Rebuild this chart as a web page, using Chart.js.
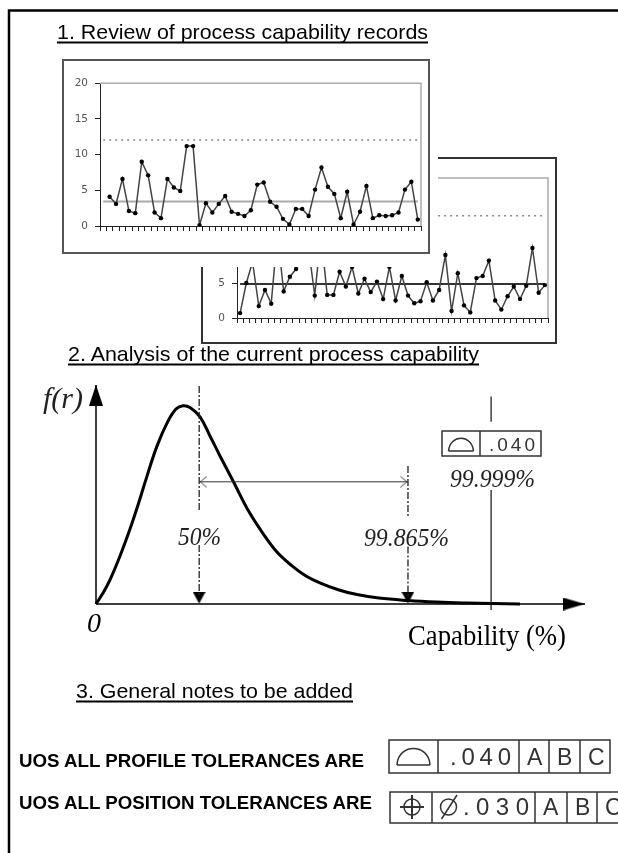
<!DOCTYPE html>
<html>
<head>
<meta charset="utf-8">
<title>Process capability</title>
<script src="https://cdn.jsdelivr.net/npm/chart.js@4/dist/chart.umd.min.js"></script>
<style>
  html, body { margin: 0; padding: 0; background: #fff; }
  body { position: relative; width: 618px; height: 853px; overflow: hidden; }
  .box { position: absolute; box-sizing: border-box; background: #fff; }
  .box canvas { position: absolute; filter: blur(.45px); }
  #frame2 { left: 201px; top: 157px; width: 356px; height: 187px; border: 2px solid #333; }
  #patch { left: 195px; top: 150px; width: 243px; height: 117px; }
  #frame1 { left: 62px; top: 59px; width: 368px; height: 195px; border: 2px solid #555; }
  #curveWrap { position: absolute; left: 76px; top: 375px; width: 529px; height: 245px; filter: blur(.3px); }
  #notes { position: absolute; left: 0; top: 0; filter: blur(.3px); }
  #notes text { font-family: "Liberation Sans", Arial, sans-serif; fill: #000; }
  #notes .serif { font-family: "Liberation Serif", "Times New Roman", serif; font-style: italic; fill: #222; }
  #notes .frame { fill: none; stroke: #333; stroke-width: 1.5; }
  #notes .sym { font-size: 23px; fill: #333; }
</style>
</head>
<body>
<div class="box" id="frame2"><canvas id="chart2" width="352" height="180" style="left:0;top:1px;width:352px;height:180px"></canvas></div>
<div class="box" id="patch"></div>
<div class="box" id="frame1"><canvas id="chart1" width="360" height="175" style="left:2px;top:9px;width:360px;height:175px"></canvas></div>
<div id="curveWrap"><canvas id="chart3" width="529" height="245"></canvas></div>

<svg id="notes" width="618" height="853" xmlns="http://www.w3.org/2000/svg">
  <path d="M9 853V10.5H618" fill="none" stroke="#000" stroke-width="2.5"/>

  <text x="57" y="39" font-size="21" textLength="371" lengthAdjust="spacingAndGlyphs">1. Review of process capability records</text>
  <path d="M57 42.5H428" stroke="#000" stroke-width="2"/>
  <text x="68" y="361" font-size="21" textLength="411" lengthAdjust="spacingAndGlyphs">2. Analysis of the current process capability</text>
  <path d="M68 364.5H479" stroke="#000" stroke-width="2"/>
  <text x="76" y="698" font-size="21" textLength="277" lengthAdjust="spacingAndGlyphs">3. General notes to be added</text>
  <path d="M76 701.5H353" stroke="#000" stroke-width="2"/>

  <text class="serif" x="43" y="408" font-size="29" textLength="40" lengthAdjust="spacingAndGlyphs">f(r)</text>
  <text class="serif" x="87" y="632" font-size="28" style="fill:#000">0</text>
  <text class="serif" x="178" y="545" font-size="25" textLength="43" lengthAdjust="spacingAndGlyphs">50%</text>
  <text class="serif" x="364" y="546" font-size="25" textLength="85" lengthAdjust="spacingAndGlyphs">99.865%</text>
  <text class="serif" x="450" y="487" font-size="25" textLength="85" lengthAdjust="spacingAndGlyphs">99.999%</text>
  <text x="408" y="645" font-size="29" textLength="158" lengthAdjust="spacingAndGlyphs" style="font-family:'Liberation Serif',serif">Capability (%)</text>

  <rect class="frame" x="442" y="431" width="99" height="25"/>
  <path class="frame" d="M480 431V456M448.5 451H473.5M448.5 451C450 434 472 434 473.5 451"/>
  <text class="sym" x="489" y="451" style="font-size:19px" textLength="46">.040</text>

  <text x="19" y="767" font-size="18.5" font-weight="bold" textLength="345" lengthAdjust="spacingAndGlyphs">UOS ALL PROFILE TOLERANCES ARE</text>
  <text x="19" y="809" font-size="18.5" font-weight="bold" textLength="353" lengthAdjust="spacingAndGlyphs">UOS ALL POSITION TOLERANCES ARE</text>

  <rect class="frame" x="389" y="740" width="221" height="33"/>
  <path class="frame" d="M438 740V773M519 740V773M549 740V773M580 740V773"/>
  <path class="frame" d="M397 765H430M397 765C398 743 429 743 430 765"/>
  <text class="sym" x="450" y="765" style="font-size:24px" textLength="61">.040</text>
  <text class="sym" x="527" y="765">A</text>
  <text class="sym" x="557" y="765">B</text>
  <text class="sym" x="588" y="765">C</text>

  <path class="frame" d="M618 792H390V823H618M432 792V823M535 792V823M567 792V823M597 792V823"/>
  <circle class="frame" cx="412" cy="807" r="8"/>
  <path class="frame" style="stroke-width:2" d="M400 807H424M412 795V819"/>
  <circle class="frame" cx="448.5" cy="807" r="8"/>
  <path class="frame" d="M441.5 819L457 795"/>
  <text class="sym" x="463" y="815" style="font-size:24px" textLength="66">.030</text>
  <text class="sym" x="543" y="815">A</text>
  <text class="sym" x="575" y="815">B</text>
  <text class="sym" x="605" y="815">C</text>
</svg>

<script>
// sample numbers on the two run charts
const sampleLabels = [1,2,3,4,5,6,7,8,9,10,11,12,13,14,15,16,17,18,19,20,21,22,23,24,25,
  26,27,28,29,30,31,32,33,34,35,36,37,38,39,40,41,42,43,44,45,46,47,48,49,50];

// first record, nothing plotted at sample 1
const record1 = [null,4.1,3.1,6.6,2.1,1.8,9.0,7.1,1.9,1.1,6.6,5.4,4.9,11.2,11.2,0.1,3.2,1.9,3.1,4.2,2.0,1.7,1.4,2.2,5.8,
  6.1,3.4,2.7,1.0,0.2,2.4,2.4,1.4,5.1,8.2,5.5,4.5,1.1,4.8,0.2,2.0,5.6,1.1,1.5,1.4,1.5,1.9,5.1,6.2,0.9];
const mean1 = 3.45;
const limit1 = 12.05;

// second record, upper part is hidden behind the first one
const record2 = [0.7,5.0,8.0,1.7,4.0,2.05,12.0,3.8,5.9,7.0,9.0,10.0,3.2,12.0,3.3,3.3,6.6,4.5,7.3,3.5,5.6,3.7,5.2,2.7,7.3,
  2.5,6.0,3.2,2.1,2.4,5.1,2.5,4.0,9.0,1.0,6.4,1.8,0.8,5.7,6.0,8.2,2.5,1.2,3.1,4.5,2.7,4.6,10.0,3.6,4.7];
const mean2 = 4.85;
const limit2 = 14.6;

const yTicks = [0,5,10,15,20];

// distribution curve
const curveX = [0,1.43,2.86,4.91,6.95,8.59,10.43,12.47,14.52,16.36,17.79,19.22,21.27,23.31,25.36,28.14,31.08,34.09,37.01,40.08,42.94,46.01,49.69,53.37,57.87,63.8,69.73,75.87,80.98,86.71];
const curveY = [0,5.0,11.0,21.9,34.2,45.2,58.4,72.1,82.6,89.0,90.5,89.7,85.4,76.7,67.6,55.7,42.9,32.4,23.7,17.4,12.8,9.4,6.4,4.3,2.7,1.6,0.9,0.46,0.23,0];

const x50 = 21.1;
const x99865 = 63.8;
const x99999 = 80.8;
const dimensionY = 55.8;

// top and right edge of a run chart
const plotEdge = {
  id: 'plotEdge',
  beforeDatasetsDraw(chart) {
    const a = chart.chartArea, ctx = chart.ctx;
    ctx.save();
    ctx.strokeStyle = '#aaa';
    ctx.lineWidth = 1.5;
    ctx.beginPath();
    ctx.moveTo(a.left, a.top);
    ctx.lineTo(a.right, a.top);
    ctx.lineTo(a.right, a.bottom);
    ctx.stroke();
    ctx.restore();
  }
};

function runChart(id, values, mean, limit, meanColor, meanWidth, padding, yWidth, xHeight) {
  return new Chart(id, {
    type: 'line',
    data: {
      labels: sampleLabels,
      datasets: [
        { data: values, borderColor: '#444', borderWidth: 1.5, pointRadius: 2.2, pointBackgroundColor: '#000', pointBorderWidth: 0, tension: 0 },
        { data: [{ x: 1, y: mean }, { x: 50, y: mean }], borderColor: meanColor, borderWidth: meanWidth, pointRadius: 0 },
        { data: [{ x: 1, y: limit }, { x: 50, y: limit }], borderColor: '#888', borderWidth: 1.5, borderDash: [2, 4], pointRadius: 0 }
      ]
    },
    options: {
      responsive: false,
      animation: false,
      layout: { padding: padding },
      plugins: { legend: { display: false }, tooltip: { enabled: false } },
      scales: {
        x: {
          offset: true,
          afterFit: s => { s.height = xHeight; },
          grid: { offset: true, drawOnChartArea: false, color: '#222', tickLength: 5 },
          border: { color: '#222' },
          ticks: { display: false, autoSkip: false }
        },
        y: {
          min: 0, max: 20,
          afterFit: s => { s.width = yWidth; },
          afterBuildTicks: s => { s.ticks = yTicks.map(v => ({ value: v })); },
          grid: { drawOnChartArea: false, color: '#222', tickLength: 5 },
          border: { color: '#222' },
          ticks: { color: '#555', padding: 7, font: { family: 'DejaVu Sans', size: 10.5 } }
        }
      }
    },
    plugins: [plotEdge]
  });
}

runChart('chart1', record1, mean1, limit1, '#aaa', 2, { top: 12, right: 5, left: 0, bottom: 0 }, 34, 19);
runChart('chart2', record2, mean2, limit2, '#333', 2, { top: 18, right: 7, left: 0, bottom: 0 }, 34, 22);

// arrow heads as point images, drawn pointing up
function arrowHead(w, h, open) {
  const c = document.createElement('canvas');
  c.width = w; c.height = h;
  const g = c.getContext('2d');
  g.beginPath();
  if (open) {
    g.moveTo(0.5, h - 0.5); g.lineTo(w / 2, 1); g.lineTo(w - 0.5, h - 0.5);
    g.strokeStyle = '#444'; g.lineWidth = 1; g.stroke();
  } else {
    g.moveTo(0, h); g.lineTo(w / 2, 0); g.lineTo(w, h); g.closePath();
    g.fillStyle = '#000'; g.fill();
  }
  return c;
}

function line(points, color, width, dash) {
  return { data: points.map(p => ({ x: p[0], y: p[1] })), borderColor: color, borderWidth: width, borderDash: dash || [], pointRadius: 0, tension: 0 };
}
function head(x, y, img, rotation) {
  return { data: [{ x: x, y: y }], showLine: false, pointStyle: img, pointRadius: 8, pointRotation: rotation };
}

const dashDot = [7, 2, 2, 2];
const yHead = arrowHead(14, 21, false);
const xHead = arrowHead(13, 22, false);
const smallHead = arrowHead(13, 12, false);
const openHead = arrowHead(12, 8, true);

new Chart('chart3', {
  type: 'line',
  data: {
    datasets: [
      line([[0, 0], [0, 100]], '#000', 1.5),
      line([[0, 0], [100, 0]], '#000', 1.5),
      line([[x50, 99.5], [x50, 42.9], [x50, null], [x50, 26.9], [x50, 3]], '#222', 1.3, dashDot),
      line([[x99865, 63], [x99865, 40.2], [x99865, null], [x99865, 26.2], [x99865, 3]], '#222', 1.3, dashDot),
      line([[x99999, 94.7], [x99999, 83.2], [x99999, null], [x99999, 52.1], [x99999, -2.7]], '#333', 1.4),
      line([[x50, dimensionY], [x99865, dimensionY]], '#333', 1),
      { data: curveX.map((v, i) => ({ x: v, y: curveY[i] })), borderColor: '#000', borderWidth: 3, pointRadius: 0, tension: 0.4 },
      head(0, 95.3, yHead, 0),
      head(97.7, 0, xHead, 90),
      head(x50, 2.9, smallHead, 180),
      head(x99865, 2.9, smallHead, 180),
      head(x50 + 0.85, dimensionY, openHead, -90),
      head(x99865 - 0.85, dimensionY, openHead, 90)
    ]
  },
  options: {
    responsive: false,
    animation: false,
    layout: { padding: { left: 20, right: 20, top: 10, bottom: 16 } },
    plugins: { legend: { display: false }, tooltip: { enabled: false } },
    scales: {
      x: { type: 'linear', display: false, min: 0, max: 100 },
      y: { display: false, min: 0, max: 100 }
    },
    clip: false
  }
});
</script>
</body>
</html>
